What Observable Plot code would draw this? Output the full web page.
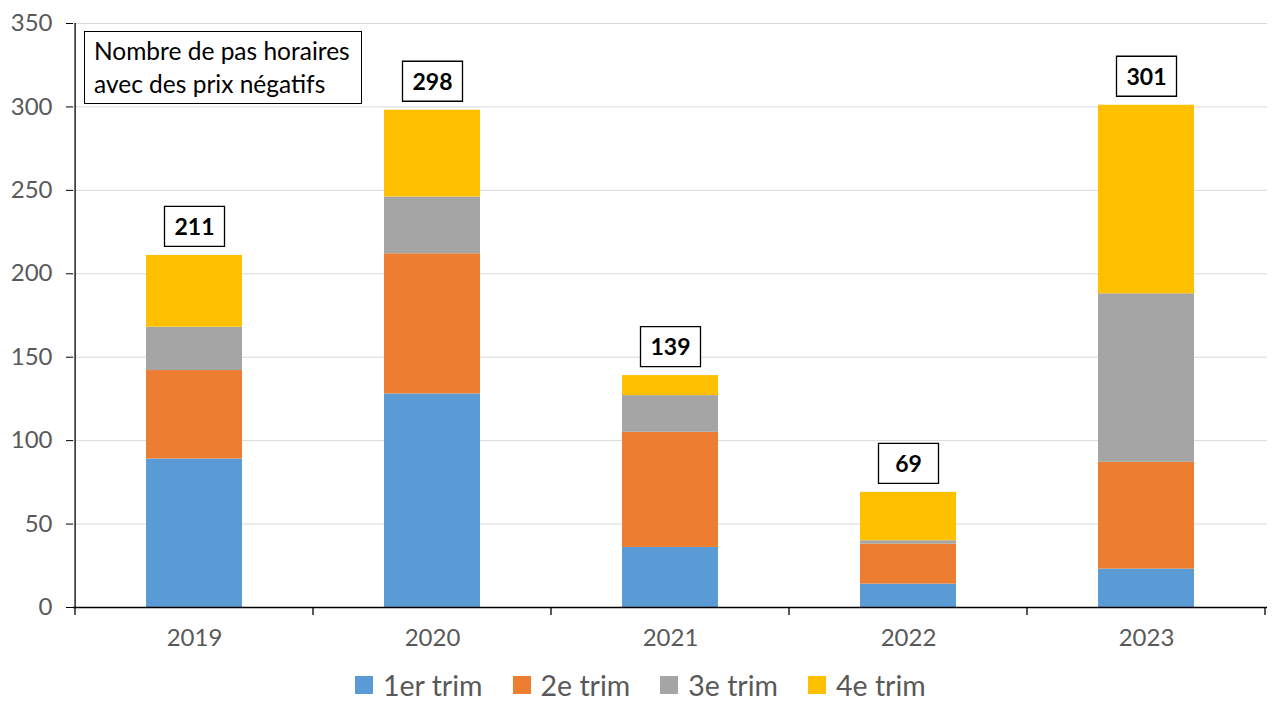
<!DOCTYPE html>
<html><head><meta charset="utf-8">
<script src="https://cdn.jsdelivr.net/npm/d3@7"></script>
<script src="https://cdn.jsdelivr.net/npm/@observablehq/plot@0.6"></script>
<style>
body{margin:0;background:#fff;font-family:Lato,"Open Sans",sans-serif;}
#wrap{position:relative;width:1280px;height:720px;}
#note{position:absolute;left:84px;top:31px;width:267px;height:69px;padding:2px 0 0 9px;border:1px solid #000;background:#fff;font-size:24.5px;line-height:33px;color:#000;white-space:nowrap;}
#legend{position:absolute;top:668px;left:355px;display:flex;gap:0;font-size:28.5px;color:#595959;}
#legend .it{display:flex;align-items:center;margin-right:30px;}
#legend .sw{width:18px;height:18px;margin-right:10px;}
</style></head>
<body><div id="wrap"><div id="chart"></div><div id="note">Nombre de pas horaires<br>avec des prix négatifs</div><div id="legend"></div></div>
<script>
const years = ["2019","2020","2021","2022","2023"];
const series = ["1er trim","2e trim","3e trim","4e trim"];
const colors = ["#5B9BD5","#ED7D31","#A5A5A5","#FFC000"];
const q1 = [89,128,36,14,23];
const q2 = [53,84,69,24,64];
const q3 = [26,34,22,2,101];
const q4 = [43,52,12,29,113];
const totals = [211,298,139,69,301];
const yTicks = [0,50,100,150,200,250,300,350];

const vals = [q1,q2,q3,q4];
const data = [];
series.forEach((s,i)=>years.forEach((y,j)=>data.push({year:y,serie:s,value:vals[i][j]})));
const totData = years.map((y,j)=>({year:y,total:totals[j]}));

const W=1280, mL=73, mR=13;
const band=(W-mL-mR)/years.length;
const boxSym={draw(ctx){ctx.rect(-30,-20,60,40);}};

const chart = Plot.plot({
  width:W,height:655,marginLeft:mL,marginRight:mR,marginTop:23,marginBottom:48,
  style:{fontFamily:"Lato, 'Open Sans', sans-serif",background:"#fff"},
  x:{domain:years,padding:0,label:null},
  y:{domain:[0,350],ticks:yTicks,label:null},
  color:{domain:series,range:colors},
  marks:[
    Plot.gridY(yTicks.filter(d=>d>0),{stroke:"#d9d9d9",strokeOpacity:1}),
    Plot.barY(data,{x:"year",y:"value",fill:"serie",order:series,insetLeft:71,insetRight:71}),
    Plot.ruleY([0],{stroke:"#000",strokeWidth:1.3}),
    Plot.axisY({ticks:yTicks,tickSize:7,tickPadding:14,fontSize:24,color:"#595959",stroke:"#000"}),
    Plot.ruleX([0],{x:()=>years[0],dx:-band/2,stroke:"#000",strokeWidth:1.3}),
    Plot.axisX({tickSize:0,tickPadding:21,fontSize:24,color:"#595959"}),
    Plot.dot(totData,{x:"year",y:"total",dy:-29,symbol:boxSym,r:10,fill:"#fff",stroke:"#000",strokeWidth:1.3}),
    Plot.text(totData,{x:"year",y:"total",text:d=>String(d.total),dy:-28,fontSize:23,fontWeight:"bold",fill:"#000"})
  ]
});
document.getElementById("chart").appendChild(chart);
const svg=d3.select(chart);
const xs=chart.scale("x"), ys=chart.scale("y");
const yb=ys.apply(0);
const bounds=years.map(y=>xs.apply(y)).concat([xs.apply(years[years.length-1])+xs.bandwidth]);
svg.append("g").selectAll("line").data(bounds).join("line")
  .attr("x1",d=>d).attr("x2",d=>d).attr("y1",yb).attr("y2",yb+8).attr("stroke","#000").attr("stroke-width",1.3);
const lg=document.getElementById("legend");
series.forEach((s,i)=>{const it=document.createElement("div");it.className="it";
  it.innerHTML=`<span class="sw" style="background:${colors[i]}"></span><span>${s}</span>`;lg.appendChild(it);});
</script></body></html>
